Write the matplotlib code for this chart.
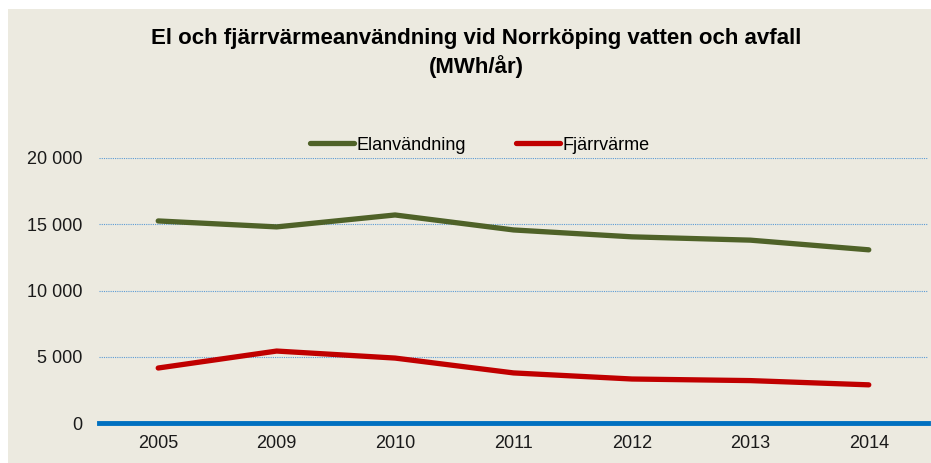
import matplotlib.pyplot as plt
from matplotlib.patches import Rectangle

plt.rcParams['font.family'] = ['Liberation Sans', 'DejaVu Sans']

years = ['2005', '2009', '2010', '2011', '2012', '2013', '2014']
el = [15250, 14800, 15700, 14570, 14050, 13800, 13070]
fjarr = [4150, 5430, 4900, 3780, 3320, 3200, 2880]

bg = '#ECEAE0'
fig = plt.figure(figsize=(9.31, 4.63), dpi=100)
fig.patch.set_facecolor('white')
# chart area background (white strip at top and left)
fig.patches.append(Rectangle((8 / 931, 0), 1, (463 - 9) / 463, transform=fig.transFigure,
                             facecolor=bg, edgecolor='none', zorder=-1))

ax = fig.add_axes([99 / 931, 40 / 463, 829 / 931, 265 / 463])
ax.set_facecolor(bg)

x = range(len(years))
ax.plot(x, el, color='#4F6228', lw=3.8, solid_capstyle='round', label='Elanvändning')
ax.plot(x, fjarr, color='#C00000', lw=3.8, solid_capstyle='round', label='Fjärrvärme')

ax.set_xlim(-0.5, len(years) - 0.5)
ax.set_ylim(0, 20000)
ax.set_xticks(list(x))
ax.set_xticklabels(years)
ax.set_yticks([0, 5000, 10000, 15000, 20000])
ax.set_yticklabels(['0', '5 000', '10 000', '15 000', '20 000'])
ax.tick_params(length=0, labelsize=13, colors='#1a1a1a')
ax.tick_params(axis='x', pad=9)
ax.tick_params(axis='y', pad=12)

for y in [5000, 10000, 15000, 20000]:
    ax.axhline(y, color='#5B9BD5', lw=0.8, ls=(0, (1, 1)), zorder=0)
ax.axhline(0, color='#0070C0', lw=3.5, clip_on=False, zorder=3)

for s in ax.spines.values():
    s.set_visible(False)

fig.text(476 / 931, 1 - 53 / 463, 'El och fjärrvärmeanvändning vid Norrköping vatten och avfall\n(MWh/år)',
         ha='center', va='center', fontsize=16, fontweight='bold', linespacing=1.3)

fig.legend(loc='center', bbox_to_anchor=(480 / 931, 1 - 145 / 463), ncol=2, frameon=False,
           fontsize=13, handlelength=2.4, handletextpad=0.15, columnspacing=2.8,
           borderpad=0, borderaxespad=0)

fig.savefig('out.png', dpi=100, facecolor=fig.get_facecolor())
